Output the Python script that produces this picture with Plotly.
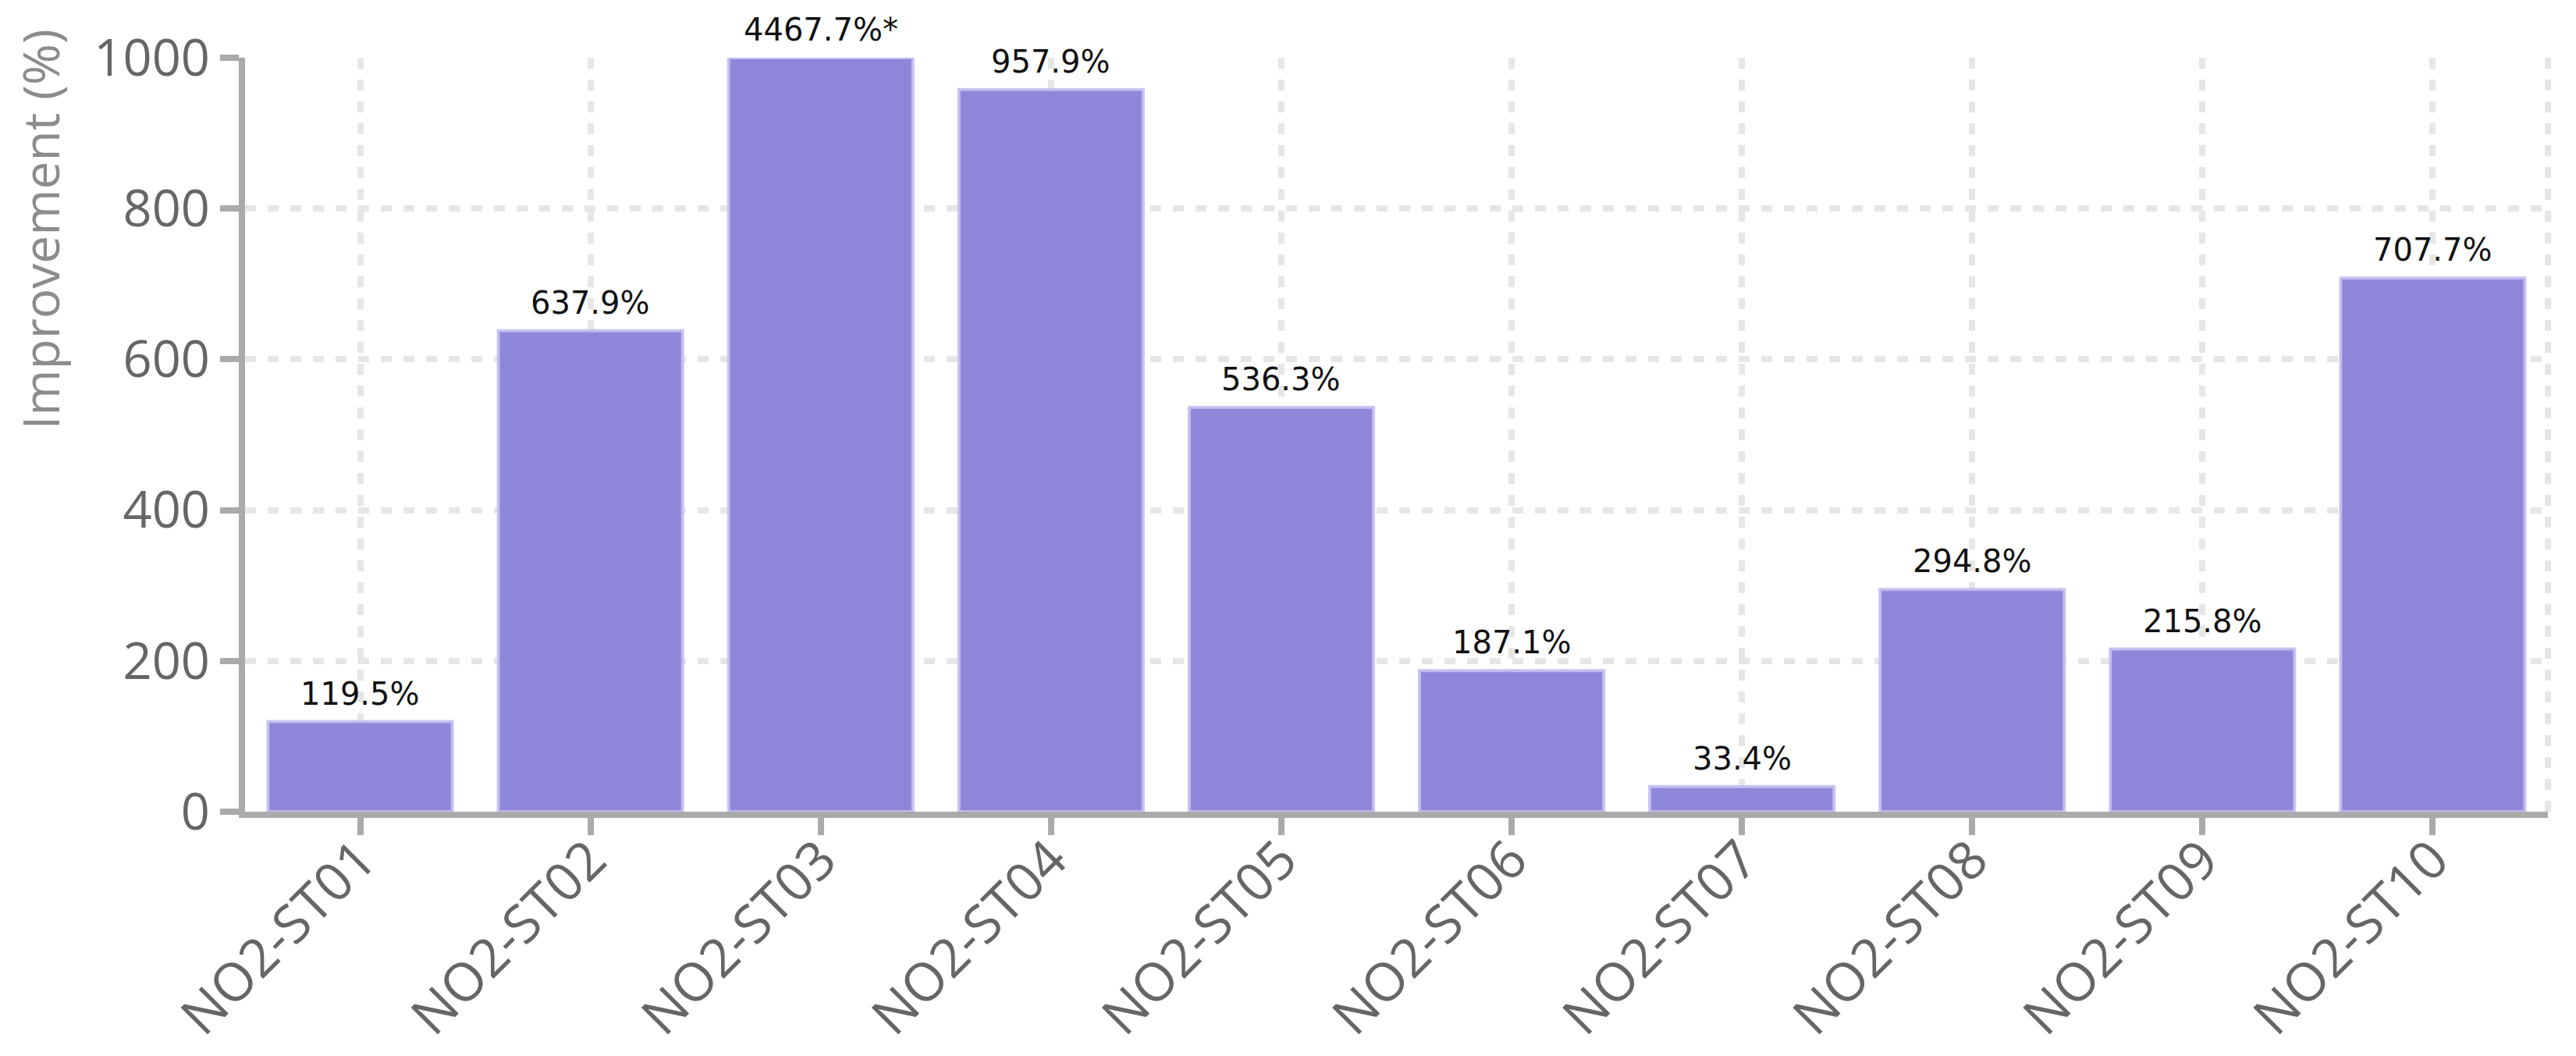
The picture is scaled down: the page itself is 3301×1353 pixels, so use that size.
import plotly.graph_objects as go

# station improvement values (%), ST03 is off the chart and gets capped
stations = ["NO2-ST01", "NO2-ST02", "NO2-ST03", "NO2-ST04", "NO2-ST05",
            "NO2-ST06", "NO2-ST07", "NO2-ST08", "NO2-ST09", "NO2-ST10"]
improvement = [119.5, 637.9, 4467.7, 957.9, 536.3, 187.1, 33.4, 294.8, 215.8, 707.7]
y_cap = 1000
y_ticks = [0, 200, 400, 600, 800, 1000]

shown = [min(v, y_cap) for v in improvement]
labels = [f"{v:.1f}%" + ("*" if v > y_cap else "") for v in improvement]

BAR = "#8e87d9"
AXIS = "#aaaaaa"
GRID = "#e6e6e6"

fig = go.Figure()
fig.add_trace(
    go.Bar(x=stations,
           y=shown,
           marker=dict(color=BAR, line=dict(color="rgba(196,191,242,0.9)", width=4)),
           hoverinfo="skip",
           showlegend=False))

# value labels above bars (outside the plot for the capped one)
for s, v, t in zip(stations, shown, labels):
    fig.add_annotation(x=s, y=v, text=t, showarrow=False,
                       yanchor="bottom", yshift=11,
                       font=dict(family="DejaVu Sans", size=40, color="#111111"))

# y title sits high, not centred
fig.add_annotation(xref="paper", yref="paper", x=-0.089, y=0.772,
                   text="Improvement (%)", textangle=-90, showarrow=False,
                   xanchor="center", yanchor="middle",
                   font=dict(family="Open Sans", size=64, color="#8c8c8c"))

# dashed right border
fig.add_shape(type="line", xref="paper", yref="paper", x0=1, x1=1, y0=0, y1=1,
              line=dict(color=GRID, width=8, dash="14px,14px"), layer="below")

# page body adds an 8px margin, so the figure is 16px smaller each way
fig.update_layout(
    width=3285, height=1337,
    margin=dict(l=306, r=28, t=66, b=305, autoexpand=False),
    paper_bgcolor="white", plot_bgcolor="white",
    bargap=0.2,
    font=dict(family="Open Sans", color="#666666"),
)
fig.update_xaxes(
    automargin=False,
    tickangle=-45,
    tickfont=dict(size=68, color="#666666"),
    ticklabelstandoff=-36,
    showline=True, linecolor=AXIS, linewidth=8,
    ticks="outside", ticklen=22, tickwidth=8, tickcolor=AXIS,
    showgrid=True, gridcolor=GRID, gridwidth=8, griddash="14px,14px",
)
fig.update_yaxes(
    automargin=False,
    range=[0, y_cap], tickvals=y_ticks,
    tickfont=dict(size=65, color="#666666"),
    showline=True, linecolor=AXIS, linewidth=8,
    ticks="outside", ticklen=24, tickwidth=8, tickcolor=AXIS,
    showgrid=True, gridcolor=GRID, gridwidth=8, griddash="14px,15px",
    zeroline=False,
)

fig.write_html("out.html")
